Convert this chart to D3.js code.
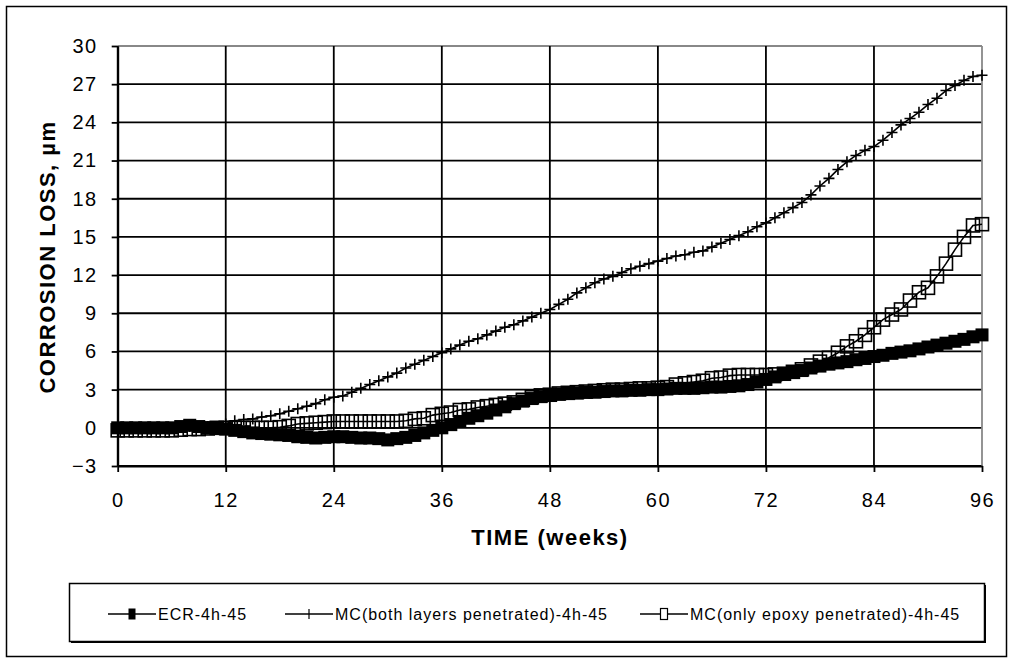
<!DOCTYPE html>
<html>
<head>
<meta charset="utf-8">
<script src="https://cdn.jsdelivr.net/npm/d3@7"></script>
<style>
  body { margin: 0; background: #fff; }
  text { font-family: "Liberation Sans", Arial, sans-serif; fill: #000; }
</style>
</head>
<body>
<div id="chart"></div>
<script>
// weekly readings
const weeks = [0,1,2,3,4,5,6,7,8,9,10,11,12,13,14,15,16,17,18,19,20,21,22,23,24,25,26,27,28,29,30,31,32,33,34,35,36,37,38,39,40,41,42,43,44,45,46,47,48,49,50,51,52,53,54,55,56,57,58,59,60,61,62,63,64,65,66,67,68,69,70,71,72,73,74,75,76,77,78,79,80,81,82,83,84,85,86,87,88,89,90,91,92,93,94,95,96];

const ecr = [0,0,0,0,0,0,0,0.1,0.2,0.1,
  0,0,-0.1,-0.2,-0.3,-0.4,-0.45,-0.5,-0.55,-0.6,
  -0.7,-0.75,-0.8,-0.75,-0.7,-0.7,-0.75,-0.8,-0.8,-0.85,
  -0.95,-0.85,-0.75,-0.6,-0.4,-0.2,0,0.25,0.5,0.75,
  0.95,1.15,1.4,1.65,1.9,2.1,2.3,2.45,2.55,2.65,
  2.7,2.75,2.8,2.8,2.85,2.9,2.9,2.95,2.95,3.0,
  3.0,3.05,3.1,3.1,3.1,3.15,3.2,3.2,3.25,3.3,
  3.4,3.6,3.8,4.0,4.2,4.35,4.5,4.7,4.85,5.0,
  5.1,5.2,5.35,5.45,5.6,5.7,5.85,5.95,6.05,6.2,
  6.35,6.5,6.65,6.8,6.95,7.15,7.3];

const mcBoth = [0,0,0,0,0,0,0,0.05,0.1,0.1,
  0.1,0.1,0.3,0.55,0.65,0.7,0.85,0.95,1.1,1.3,
  1.5,1.7,1.9,2.2,2.4,2.5,2.8,3.1,3.4,3.7,
  4.0,4.3,4.7,5.0,5.3,5.6,5.9,6.2,6.5,6.8,
  7.0,7.3,7.6,7.9,8.1,8.4,8.7,9.0,9.3,9.7,
  10.1,10.6,11.0,11.4,11.7,11.9,12.2,12.5,12.7,12.9,
  13.1,13.3,13.5,13.6,13.8,13.9,14.2,14.5,14.8,15.1,
  15.4,15.8,16.1,16.5,16.9,17.3,17.7,18.3,19.0,19.6,
  20.3,20.9,21.4,21.8,22.1,22.6,23.2,23.8,24.3,24.8,
  25.4,25.9,26.5,26.9,27.3,27.6,27.7];

const mcEpoxy = [-0.2,-0.2,-0.2,-0.2,-0.2,-0.2,-0.2,-0.15,-0.1,-0.1,
  -0.05,0,0,0,0,0,0,0,0.05,0.15,
  0.3,0.35,0.4,0.45,0.5,0.5,0.5,0.5,0.5,0.5,
  0.5,0.5,0.55,0.7,0.75,1.0,1.1,1.2,1.4,1.45,
  1.6,1.7,1.8,1.9,2.0,2.2,2.4,2.55,2.6,2.7,
  2.75,2.8,2.85,2.9,2.95,3.0,3.0,3.05,3.1,3.1,
  3.15,3.2,3.4,3.5,3.6,3.7,3.9,3.95,4.1,4.15,
  4.15,4.15,4.15,4.2,4.25,4.4,4.6,4.9,5.2,5.5,
  5.9,6.4,6.8,7.3,7.9,8.5,8.9,9.3,10.0,10.65,
  11.0,11.9,12.9,14.0,15.0,15.9,16.0];

const seriesNames = ["ECR-4h-45", "MC(both layers penetrated)-4h-45", "MC(only epoxy penetrated)-4h-45"];
const seriesMarkers = ["filled", "plus", "open"];
const xTicks = [0, 12, 24, 36, 48, 60, 72, 84, 96];
const yTicks = [-3, 0, 3, 6, 9, 12, 15, 18, 21, 24, 27, 30];

const W = 1013, H = 661;
const plot = { left: 117.7, right: 982, top: 46, bottom: 466 };

const svg = d3.select("#chart").append("svg")
  .attr("width", W).attr("height", H);

// outer frame
svg.append("rect")
  .attr("x", 6.5).attr("y", 6.5)
  .attr("width", 1000).attr("height", 650)
  .attr("fill", "#fff").attr("stroke", "#000").attr("stroke-width", 1.5);

const x = d3.scaleLinear().domain([0, 96]).range([plot.left, plot.right]);
const y = d3.scaleLinear().domain([-3, 30]).range([plot.bottom, plot.top]);

// grid
const grid = svg.append("g");
grid.selectAll(".hg").data(yTicks).enter().append("line")
  .attr("x1", plot.left).attr("x2", plot.right)
  .attr("y1", d => y(d)).attr("y2", d => y(d))
  .attr("stroke", d => d === 30 ? "#888" : "#000")
  .attr("stroke-width", 1.8);
grid.selectAll(".vg").data(xTicks).enter().append("line")
  .attr("y1", plot.top).attr("y2", plot.bottom)
  .attr("x1", d => x(d)).attr("x2", d => x(d))
  .attr("stroke", d => d === 96 ? "#888" : "#000")
  .attr("stroke-width", 1.8);

// axes
const yAxis = svg.append("g")
  .attr("transform", "translate(" + plot.left + ",0)")
  .call(d3.axisLeft(y).tickValues(yTicks).tickSize(6).tickPadding(14).tickSizeOuter(0));
const xAxis = svg.append("g")
  .attr("transform", "translate(0," + plot.bottom + ")")
  .call(d3.axisBottom(x).tickValues(xTicks).tickSize(6).tickPadding(21).tickSizeOuter(0));

[xAxis, yAxis].forEach(g => {
  g.select(".domain").attr("stroke", "#000").attr("stroke-width", 2);
  g.selectAll(".tick line").attr("stroke", "#000").attr("stroke-width", 1.8);
  g.selectAll(".tick text")
    .style("font-family", '"Liberation Sans", Arial, sans-serif')
    .style("font-size", "20px")
    .style("letter-spacing", "1.5px")
    .attr("fill", "#000");
});

svg.append("text")
  .attr("x", 550).attr("y", 545)
  .attr("text-anchor", "middle")
  .style("font-size", "22px").style("font-weight", "bold")
  .style("letter-spacing", "1.5px")
  .text("TIME (weeks)");

svg.append("text")
  .attr("transform", "translate(55,257) rotate(-90)")
  .attr("text-anchor", "middle")
  .style("font-size", "22px").style("font-weight", "bold")
  .style("letter-spacing", "1.5px")
  .text("CORROSION LOSS, \u00b5m");

// series
const line = d3.line().x((d, i) => x(weeks[i])).y(d => y(d));
const allSeries = [ecr, mcBoth, mcEpoxy];

function drawMarker(g, type, cx, cy, s) {
  if (type === "filled") {
    g.append("rect").attr("x", cx - s / 2).attr("y", cy - s / 2)
      .attr("width", s).attr("height", s).attr("fill", "#000");
  } else if (type === "open") {
    g.append("rect").attr("x", cx - s / 2).attr("y", cy - s / 2)
      .attr("width", s).attr("height", s)
      .attr("fill", "none").attr("stroke", "#000").attr("stroke-width", 1.6);
  } else {
    g.append("path")
      .attr("d", `M${cx - s / 2},${cy}H${cx + s / 2}M${cx},${cy - s / 2}V${cy + s / 2}`)
      .attr("stroke", "#000").attr("stroke-width", 1.6);
  }
}

allSeries.forEach((vals, k) => {
  const g = svg.append("g");
  g.append("path").datum(vals)
    .attr("d", line)
    .attr("fill", "none").attr("stroke", "#000").attr("stroke-width", 1.6);
  const size = seriesMarkers[k] === "plus" ? 11 : 13;
  vals.forEach((v, i) => drawMarker(g, seriesMarkers[k], x(weeks[i]), y(v), size));
});

// legend
const lg = svg.append("g");
lg.append("rect").attr("x", 71).attr("y", 585).attr("width", 915).attr("height", 58).attr("fill", "#000");
lg.append("rect").attr("x", 69.5).attr("y", 583.5).attr("width", 915).attr("height", 58)
  .attr("fill", "#fff").attr("stroke", "#000").attr("stroke-width", 1.5);

const legendX = [108, 285, 640];
const legendY = 614;
seriesNames.forEach((name, k) => {
  const x0 = legendX[k];
  lg.append("line").attr("x1", x0).attr("x2", x0 + 48)
    .attr("y1", legendY).attr("y2", legendY)
    .attr("stroke", "#000").attr("stroke-width", 1.5);
  const cx = x0 + 24;
  if (seriesMarkers[k] === "filled") {
    lg.append("rect").attr("x", cx - 3.5).attr("y", legendY - 5.5).attr("width", 7).attr("height", 11).attr("fill", "#000");
  } else if (seriesMarkers[k] === "open") {
    lg.append("rect").attr("x", cx - 3.5).attr("y", legendY - 5.5).attr("width", 7).attr("height", 11)
      .attr("fill", "#fff").attr("stroke", "#000").attr("stroke-width", 1.2);
  } else {
    lg.append("path").attr("d", `M${cx},${legendY - 5}V${legendY + 5}`)
      .attr("stroke", "#000").attr("stroke-width", 1.2);
  }
  lg.append("text").attr("x", x0 + 50).attr("y", legendY + 6)
    .style("font-size", "16px").style("letter-spacing", "1px")
    .text(name);
});
</script>
</body>
</html>
